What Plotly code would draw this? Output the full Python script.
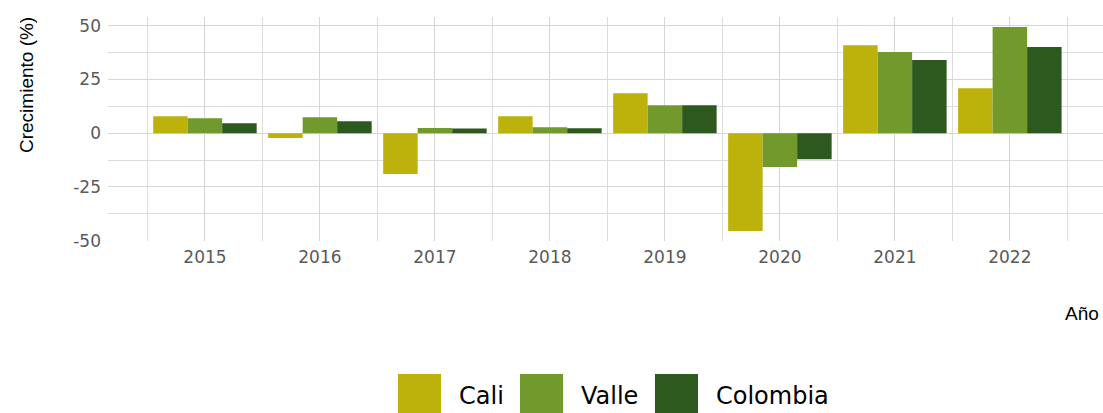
import plotly.graph_objects as go

years = ["2015", "2016", "2017", "2018", "2019", "2020", "2021", "2022"]
series_names = ["Cali", "Valle", "Colombia"]
cali = [7.9, -2.2, -19.0, 7.9, 18.6, -45.4, 40.9, 20.9]
valle = [7.0, 7.4, 2.4, 2.8, 13.0, -15.7, 37.7, 49.3]
colombia = [4.6, 5.6, 2.2, 2.3, 13.0, -12.1, 34.0, 40.0]
colors = ["#BDB20B", "#72992C", "#2E591E"]
y_ticks = [-50, -25, 0, 25, 50]

W, H = 1103, 413
L, T = 108, 17
PW, PH = W - L, 241 - T

def xp(px):
    return (px - L) / PW

def yp(py):
    return (T + PH - py) / PH

xs = list(range(len(years)))
fig = go.Figure()
for name, vals, col in zip(series_names, [cali, valle, colombia], colors):
    fig.add_trace(go.Bar(x=xs, y=vals, name=name, marker=dict(color=col, line=dict(width=0)),
                         showlegend=False))

fig.update_layout(
    width=W, height=H,
    margin=dict(l=L, r=0, t=T, b=H - T - PH),
    paper_bgcolor="white", plot_bgcolor="white",
    barmode="group", bargap=0.1, bargroupgap=0,
    font=dict(family="DejaVu Sans", size=17, color="#4d4d4d"),
)
fig.update_xaxes(
    range=[-0.843, 7.81], tickmode="array", tickvals=xs, ticktext=years,
    showgrid=True, gridcolor="#d6d6d6", gridwidth=1.2, zeroline=False, showline=False,
    ticks="", ticklabelstandoff=4,
    minor=dict(tick0=0.5, dtick=1, showgrid=True, gridcolor="#dcdcdc", gridwidth=1),
    tickfont=dict(family="DejaVu Sans", size=17, color="#5a5a5a"),
)
fig.update_yaxes(
    range=[-50.1, 54.0], tickmode="array", tickvals=y_ticks, ticktext=[str(v) for v in y_ticks],
    showgrid=True, gridcolor="#d6d6d6", gridwidth=1.2, zeroline=False, showline=False,
    ticks="", ticklabelstandoff=6,
    minor=dict(dtick=12.5, tick0=0, showgrid=True, gridcolor="#dcdcdc", gridwidth=1),
    tickfont=dict(family="DejaVu Sans", size=17, color="#5a5a5a"),
)

ann = []
ann.append(dict(text="Crecimiento (%)", textangle=-90, xref="paper", yref="paper",
                x=xp(26), y=yp(15), xanchor="center", yanchor="top", showarrow=False,
                font=dict(family="Liberation Sans", size=19, color="black")))
ann.append(dict(text="Año", xref="paper", yref="paper", x=xp(1101), y=yp(313),
                xanchor="right", yanchor="middle", showarrow=False,
                font=dict(family="Liberation Sans", size=19, color="black")))

shapes = []
sq_left = [398, 520, 655]
txt_left = [458, 580, 715]
for name, col, sl, tl in zip(series_names, colors, sq_left, txt_left):
    shapes.append(dict(type="rect", xref="paper", yref="paper", x0=xp(sl), x1=xp(sl + 43),
                       y0=yp(374), y1=yp(417), fillcolor=col, line=dict(width=0)))
    ann.append(dict(text=name, xref="paper", yref="paper", x=xp(tl - 1), y=yp(396),
                    xanchor="left", yanchor="middle", showarrow=False,
                    font=dict(family="DejaVu Sans", size=24, color="black")))

fig.update_layout(annotations=ann, shapes=shapes)
fig.write_html("out.html", config={"displayModeBar": False},
               post_script="document.body.style.margin='0';document.body.style.overflow='hidden';")
